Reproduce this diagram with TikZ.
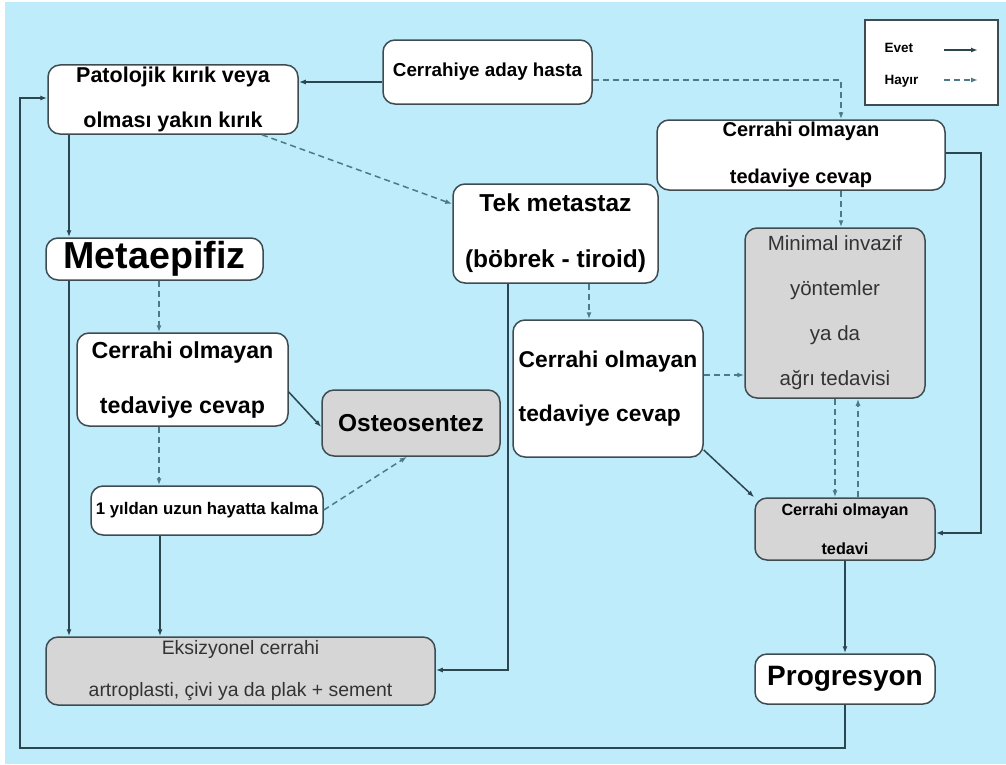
\documentclass[tikz,border=0pt]{standalone}
\usepackage{fontspec}
\setmainfont{Liberation Sans}
\usetikzlibrary{arrows.meta, positioning}
\definecolor{bgblue}{RGB}{190,236,250}
\definecolor{boxgray}{RGB}{214,214,214}
\definecolor{boxline}{RGB}{62,76,82}
\definecolor{arrowline}{RGB}{44,70,80}
\definecolor{dashline}{RGB}{78,122,134}
\tikzset{
  box/.style={draw=boxline, line width=1.5pt, rounded corners=12pt,
    fill=white, inner sep=2pt, align=center}, % every flow box
  graybox/.style={box, fill=boxgray, text=black!80},
  evetline/.style={-{Latex[length=7pt,width=5pt]}, line width=1.5pt,
    draw=arrowline},
  hayirline/.style={evetline, dash pattern=on 6pt off 4pt, draw=dashline},
}
\newcommand{\fs}[2]{\fontsize{#1}{#2}\selectfont}
\begin{document}
\begin{tikzpicture}[x=1pt, y=-1pt]
    \useasboundingbox (0,0) rectangle (1006,764);
    \fill[bgblue] (5,2) rectangle (1006,764);

    % boxes
    \node[box, minimum width=209, minimum height=64,
      font=\bfseries\fs{18.8}{22}] (hasta) at (487.5,72)
      {Cerrahiye aday hasta};
    \node[box, minimum width=250, minimum height=67,
      font=\bfseries\fs{21.5}{45}] (patolojik) at (173,99.5)
      {Patolojik kırık veya\\olması yakın kırık};
    \node[box, minimum width=288, minimum height=70,
      font=\bfseries\fs{20}{47}] (cevapust) at (801,155)
      {Cerrahi olmayan\\tedaviye cevap};
    \node[box, minimum width=205, minimum height=99,
      font=\bfseries\fs{24.5}{56}] (tek) at (555.5,233.5)
      {Tek metastaz\\(böbrek - tiroid)};
    \node[box, minimum width=217, minimum height=42, inner sep=0pt,
      font=\bfseries\fs{37.6}{40}] (meta) at (154.5,259) {Metaepifiz};
    \node[graybox, minimum width=180, minimum height=170,
      font=\fs{20.5}{45}] (minimal) at (835,313)
      {Minimal invazif\\yöntemler\\ya da\\ağrı tedavisi};
    \node[box, minimum width=211, minimum height=93,
      font=\bfseries\fs{23.2}{55}] (cevapsol) at (182.5,379.5)
      {Cerrahi olmayan\\tedaviye cevap};
    \node[graybox, text=black, minimum width=178, minimum height=66,
      font=\bfseries\fs{24.5}{28}] (osteo) at (411,423) {Osteosentez};
    \node[box, minimum width=190, minimum height=137, align=left,
      inner xsep=1pt, font=\bfseries\fs{22.8}{54}] (cevaporta)
      at (608,388.5) {Cerrahi olmayan\\tedaviye cevap};
    \node[box, minimum width=232, minimum height=49,
      font=\bfseries\fs{16.8}{20}] (yil) at (207,510.5)
      {1 yıldan uzun hayatta kalma};
    \node[graybox, text=black, minimum width=180, minimum height=62,
      font=\bfseries\fs{16.2}{39}] (tedavi) at (845,529)
      {Cerrahi olmayan\\tedavi};
    \node[graybox, minimum width=389, minimum height=68,
      font=\fs{19.4}{42}] (eksiz) at (240.5,671)
      {Eksizyonel cerrahi\\artroplasti, çivi ya da plak + sement};
    \node[box, minimum width=180, minimum height=50,
      font=\bfseries\fs{28}{32}] (prog) at (845,679) {Progresyon};

    % legend
    \node[draw=boxline, line width=1.5pt, fill=white, minimum width=133,
      minimum height=85] (legend) at (931.5,62.5) {};
    \node[font=\bfseries\fs{13.5}{15}, anchor=west] (evet) at (881,48) {Evet};
    \node[font=\bfseries\fs{13.5}{15}, anchor=west] (hayir) at (881,81) {Hayır};
    \coordinate (evetbas) at (944,50);
    \coordinate (hayirbas) at (944,80);
    \draw[evetline] (evetbas) -- ++(34,0);
    \draw[hayirline] (hayirbas) -- ++(34,0);

    % connectors
    \draw[evetline] (hasta.west |- 0,82) -- (patolojik.east |- 0,82);
    \draw[hayirline] (hasta.east |- 0,80) -| (841,0 |- cevapust.north);
    \draw[evetline] (patolojik.south -| 69,0) -- (meta.north -| 69,0);
    \draw[hayirline] (patolojik.south -| 262,0) -- (tek.west |- 0,204);
    \draw[evetline] (cevapust.east |- 0,153) -- ++(35,0)
      |- (tedavi.east |- 0,533);
    \draw[hayirline] (cevapust.south -| 841,0) -- (minimal.north -| 841,0);
    \draw[hayirline] (meta.south -| 159,0) -- (cevapsol.north -| 159,0);
    \draw[evetline] (meta.south -| 69,0) -- (eksiz.north -| 69,0);
    \draw[evetline] (cevapsol.east |- 0,392) -- (osteo.west |- 0,427);
    \draw[hayirline] (cevapsol.south -| 159,0) -- (yil.north -| 159,0);
    \draw[hayirline] (yil.east |- 0,510) -- (osteo.south -| 407,0);
    \draw[evetline] (yil.south -| 160,0) -- (eksiz.north -| 160,0);
    \draw[evetline] (tek.south -| 508,0) |- (eksiz.east |- 0,670);
    \draw[hayirline] (tek.south -| 589,0) -- (cevaporta.north -| 589,0);
    \draw[hayirline] (cevaporta.east |- 0,375) -- (minimal.west |- 0,375);
    \draw[evetline] (cevaporta.east |- 0,450) -- (tedavi.north west);
    \draw[hayirline] (minimal.south -| 835,0) -- (tedavi.north -| 835,0);
    \draw[hayirline] (tedavi.north -| 858,0) -- (minimal.south -| 858,0);
    \draw[evetline] (tedavi.south) -- (prog.north);
    \coordinate (donus) at (20,748);
    \draw[evetline] (prog.south) |- (donus) |- (patolojik.west |- 0,98);
\end{tikzpicture}
\end{document}
